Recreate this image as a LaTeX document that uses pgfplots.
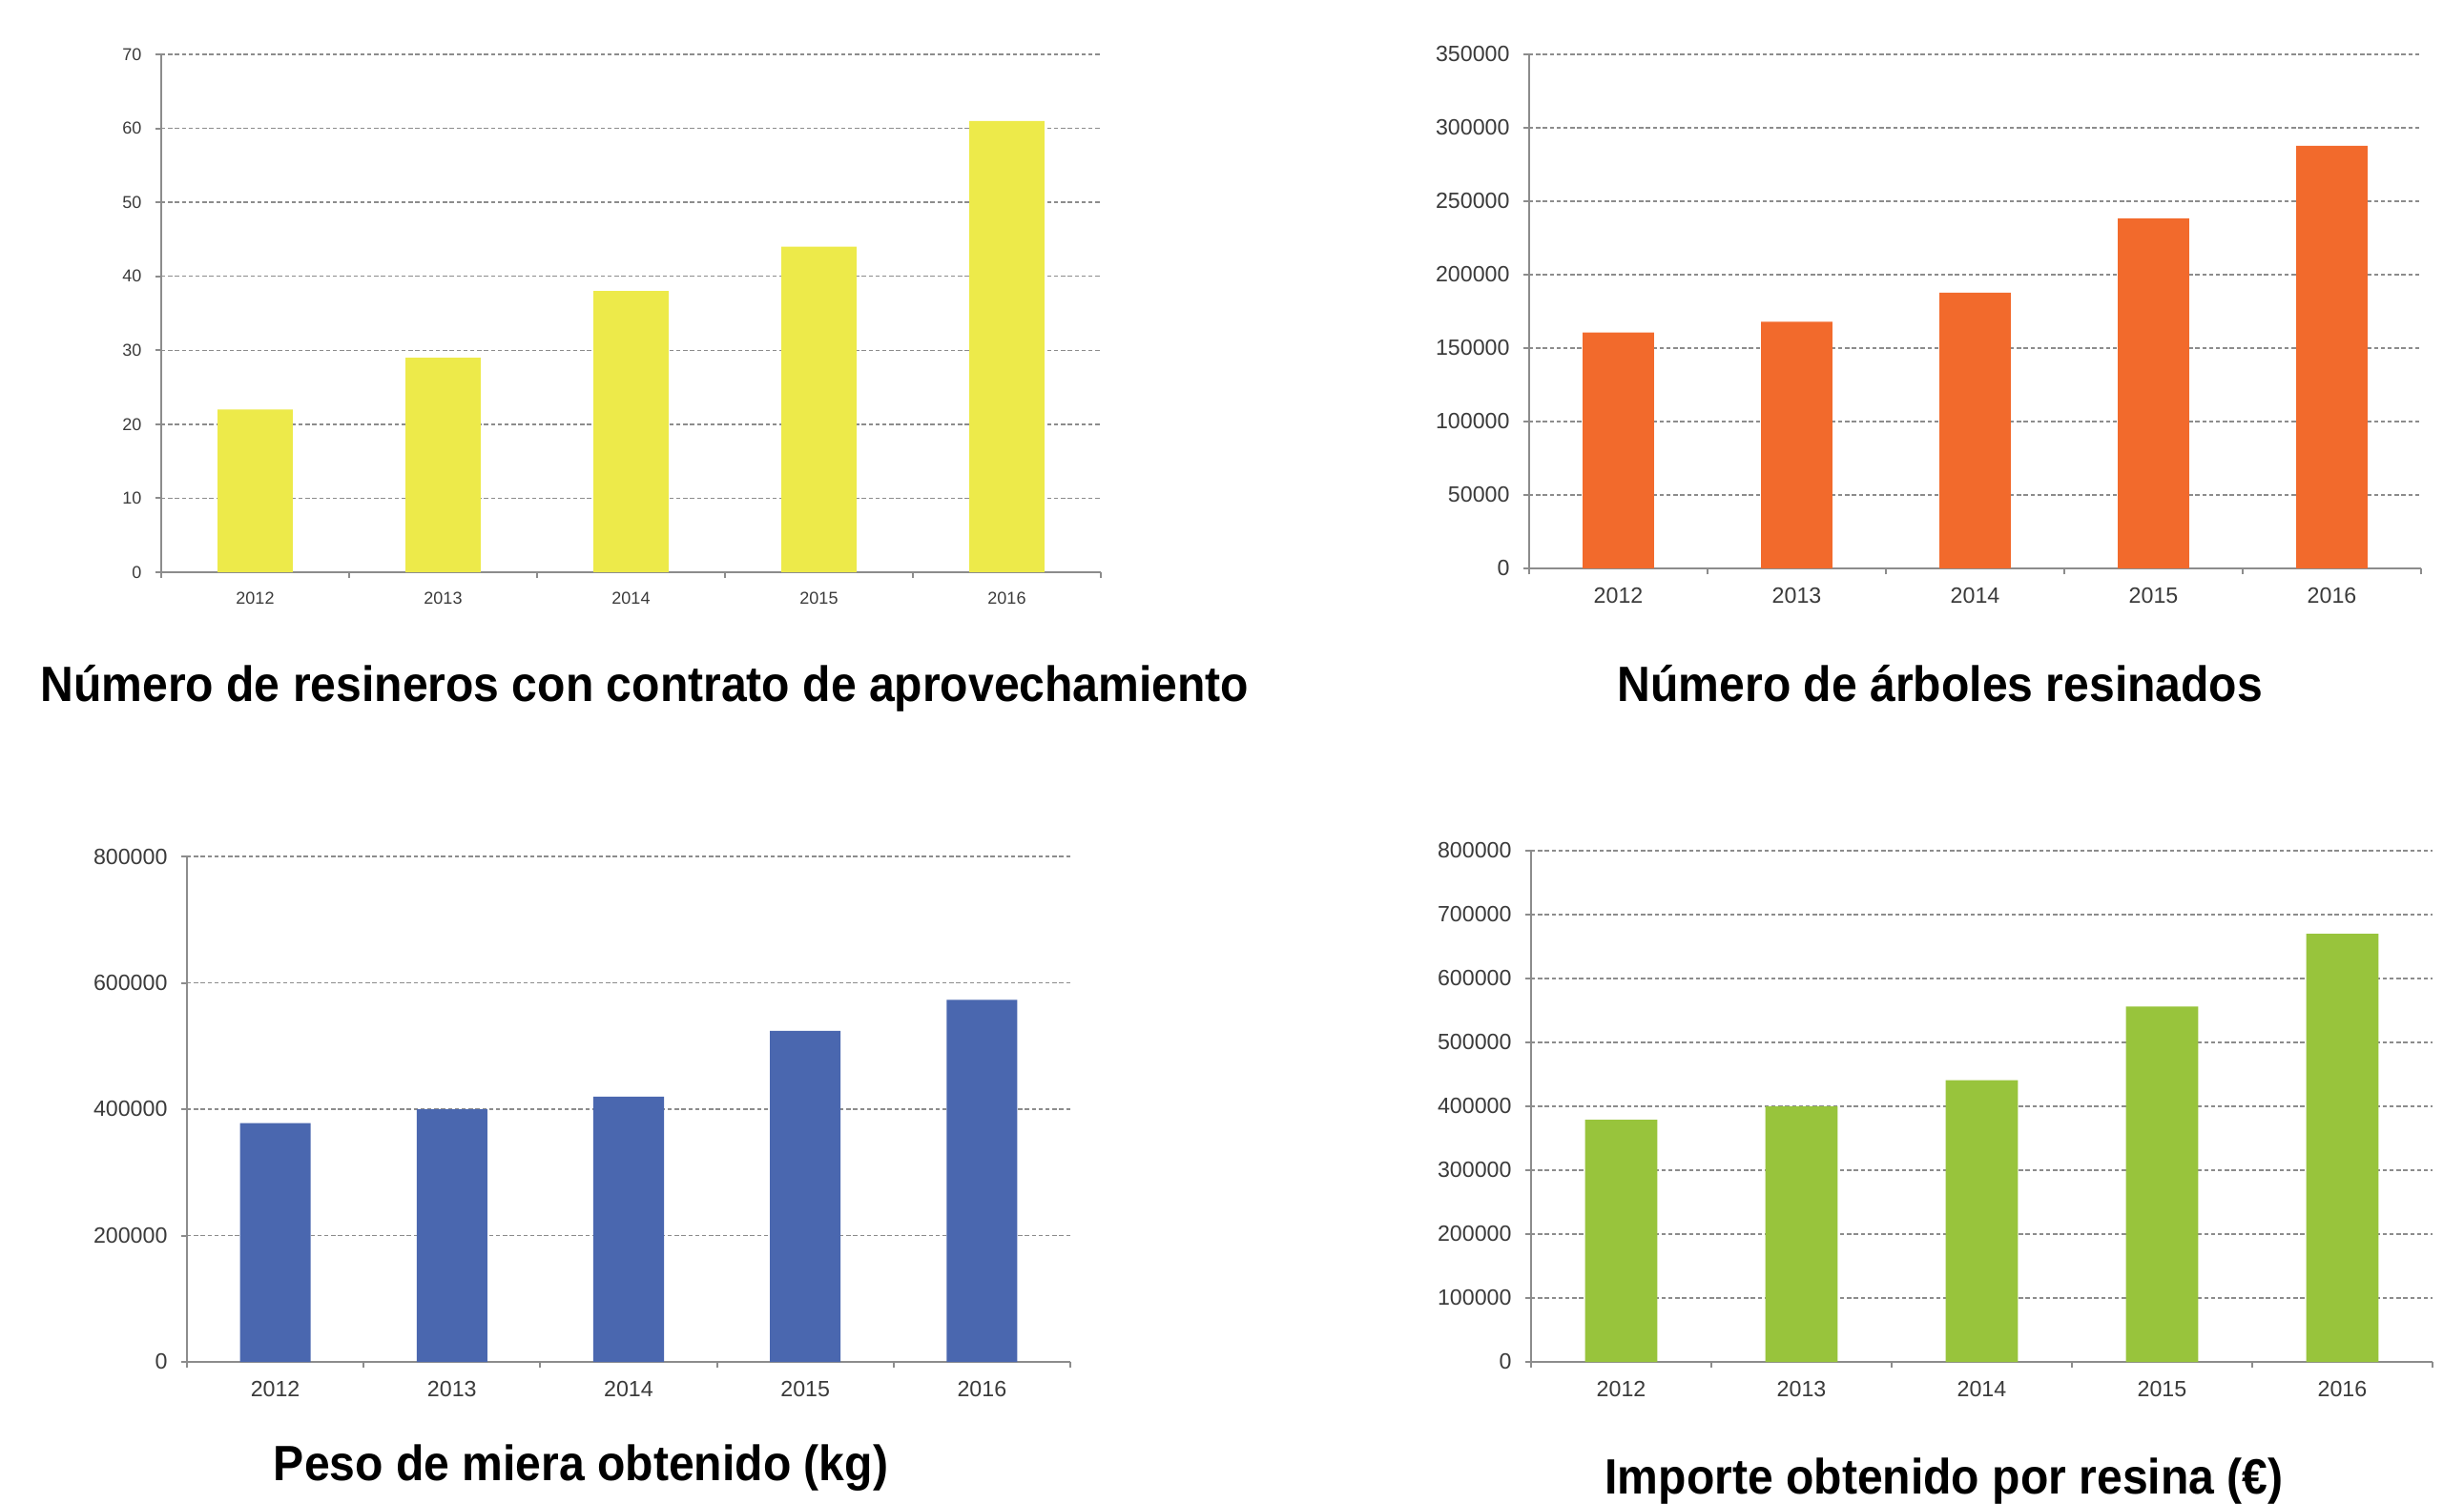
\documentclass[border=0pt]{standalone}
\usepackage{pgfplots}
\pgfplotsset{compat=1.18}
\usepackage{fontspec}
\setmainfont{Liberation Sans}
\newfontfamily\titlefont[FakeStretch=0.925]{Liberation Sans}

\definecolor{axgray}{HTML}{8C8C8C}
\definecolor{labgray}{HTML}{3A3A3A}
\definecolor{cyellow}{HTML}{EDEA4A}
\definecolor{corange}{HTML}{F26A2C}
\definecolor{cblue}{HTML}{4A67AF}
\definecolor{cgreen}{HTML}{98C43C}

\pgfplotsset{
  resin/.style={
    scale only axis, anchor=south west,
    xmin=0, xmax=5, ymin=0,
    xtick={0,...,5}, x tick label as interval,
    xticklabels={2012,2013,2014,2015,2016},
    axis x line=bottom, axis y line=left,
    axis line style={-, draw=axgray, line width=0.5pt},
    tick style={draw=axgray, line width=0.5pt},
    tick align=outside, major tick length=1.6pt,
    ymajorgrids,
    grid style={dash pattern=on 1.1pt off 0.7pt, draw=axgray, line width=0.35pt},
    scaled y ticks=false,
    /pgf/number format/fixed,
    /pgf/number format/1000 sep={},
    /pgf/number format/assume math mode=true,
    ticklabel style={text=labgray},
    ybar, bar width=0.4,
  },
}

\begin{document}
\begin{tikzpicture}
\path[use as bounding box] (0pt,0pt) rectangle (645.75pt,394pt);

% resineros
\begin{axis}[resin, at={(42.25pt,244pt)}, width=246.25pt, height=135.75pt,
  ymax=70, ytick={0,10,...,70},
  ticklabel style={font=\fontsize{4.5}{5}\selectfont}]
\addplot[fill=cyellow, draw=none] coordinates {(0.5,22) (1.5,29) (2.5,38) (3.5,44) (4.5,61)};
\end{axis}

% arboles
\begin{axis}[resin, at={(400.75pt,245pt)}, width=233.75pt, height=134.75pt,
  ymax=350000, ytick={0,50000,...,350000},
  ticklabel style={font=\fontsize{5.8}{6.5}\selectfont}]
\addplot[fill=corange, draw=none] coordinates {(0.5,160700) (1.5,167900) (2.5,187700) (3.5,238300) (4.5,287700)};
\end{axis}

% miera
\begin{axis}[resin, at={(49pt,37pt)}, width=231.5pt, height=132.5pt,
  ymax=800000, ytick={0,200000,...,800000},
  ticklabel style={font=\fontsize{5.8}{6.5}\selectfont}]
\addplot[fill=cblue, draw=none] coordinates {(0.5,378000) (1.5,400000) (2.5,420000) (3.5,524000) (4.5,573000)};
\end{axis}

% importe
\begin{axis}[resin, at={(401.25pt,37pt)}, width=236.25pt, height=134pt,
  ymax=800000, ytick={0,100000,...,800000},
  ticklabel style={font=\fontsize{5.8}{6.5}\selectfont}]
\addplot[fill=cgreen, draw=none] coordinates {(0.5,379000) (1.5,400000) (2.5,441000) (3.5,556000) (4.5,670000)};
\end{axis}

\begin{scope}[every node/.style={anchor=base, inner sep=0pt, font=\titlefont\bfseries\fontsize{13}{15}\selectfont}]
\node at (169pt,210pt) {Número de resineros con contrato de aprovechamiento};
\node at (508.5pt,210pt) {Número de árboles resinados};
\node at (152.25pt,6pt) {Peso de miera obtenido (kg)};
\node at (509.5pt,2.5pt) {Importe obtenido por resina (€)};
\end{scope}
\end{tikzpicture}
\end{document}
